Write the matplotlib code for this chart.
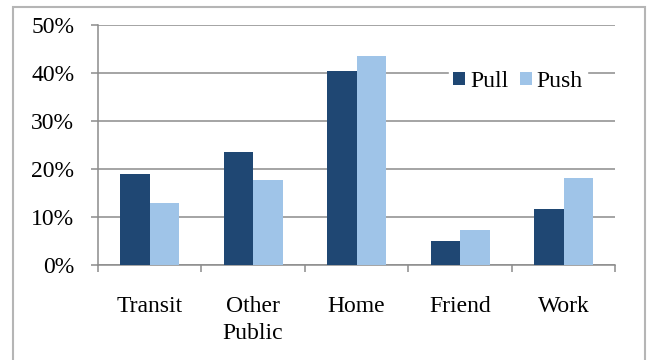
import matplotlib.pyplot as plt
from matplotlib.patches import Rectangle
from matplotlib.ticker import FuncFormatter, FixedLocator
import numpy as np

categories = ['Transit', 'Other\nPublic', 'Home', 'Friend', 'Work']
pull = [18.9, 23.5, 40.4, 4.9, 11.7]
push = [12.9, 17.6, 43.5, 7.3, 18.1]

plt.rcParams['font.family'] = ['Liberation Serif', 'DejaVu Serif']

fig = plt.figure(figsize=(6.56, 3.60), dpi=100)
ax = fig.add_axes([0.149, 0.264, 0.789, 0.667])

# gray frame round the whole chart (bottom edge is cut off in the original)
fig.patches.append(Rectangle((13/656, -0.05), (645-13)/656, 1.05 - 7/360,
                             transform=fig.transFigure, fill=False,
                             edgecolor='#b5b5b5', lw=1.5))

x = np.arange(len(categories))
w = 0.285
ax.bar(x - w/2, pull, w, color='#1f4773', label='Pull', zorder=3)
ax.bar(x + w/2, push, w, color='#9fc4e8', label='Push', zorder=3)

ax.set_xlim(-0.5, 4.5)
ax.set_ylim(0, 50)
ax.set_yticks(np.arange(0, 51, 10))
ax.yaxis.set_major_formatter(FuncFormatter(lambda v, p: '%d%%' % v))
ax.yaxis.grid(True, color='#8c8c8c', lw=1.1, zorder=0)

ax.set_xticks(x)
ax.set_xticklabels(categories, linespacing=1.4)
ax.xaxis.set_minor_locator(FixedLocator(np.arange(-0.5, 5, 1)))
ax.tick_params(axis='x', which='major', length=0, pad=22, labelsize=17)
ax.tick_params(axis='x', which='minor', length=5, color='#8c8c8c', width=1.1)
ax.tick_params(axis='y', length=5, color='#8c8c8c', width=1.1, labelsize=17, pad=12)

for s in ['top', 'right']:
    ax.spines[s].set_visible(False)
for s in ['left', 'bottom']:
    ax.spines[s].set_color('#8c8c8c')
    ax.spines[s].set_linewidth(1.1)

leg = ax.legend(loc='center', bbox_to_anchor=(0.812, 0.765), ncol=2, frameon=True,
                fontsize=17, handlelength=0.5, handleheight=0.5,
                handletextpad=0.2, columnspacing=0.5, borderpad=0.2,
                fancybox=False, framealpha=1)
leg.get_frame().set_edgecolor('white')
leg.set_zorder(5)

fig.savefig('out.png', dpi=100)
